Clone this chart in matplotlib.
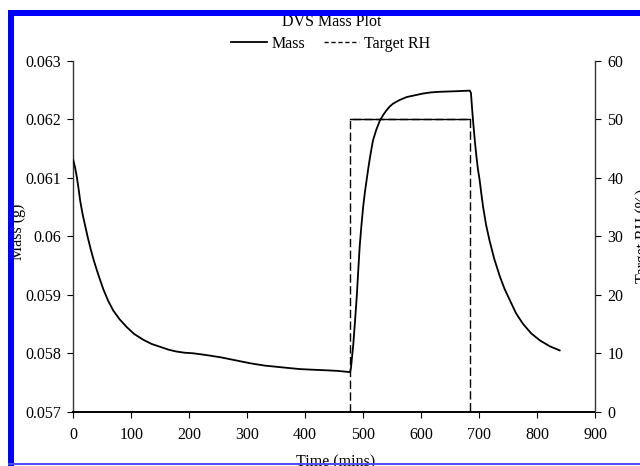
import matplotlib
matplotlib.use("Agg")
import matplotlib.pyplot as plt
from matplotlib.patches import Rectangle
from matplotlib.lines import Line2D

plt.rcParams['font.family'] = ['Liberation Serif', 'DejaVu Serif']

# ---- data ----
t_mass = [0, 3, 6, 9, 12, 16, 20, 25, 30, 35, 40, 46, 52, 60, 69, 80, 92, 105,
          121, 135, 150, 165, 178, 192, 207, 222, 236, 255, 275, 290, 305, 330,
          350, 370, 391, 412, 435, 455, 476,
          477.5, 479, 481, 483, 486, 489, 491.5, 494, 497, 500, 503, 506, 509,
          512, 517, 523, 529, 535, 540, 546, 552, 563, 575, 589, 603, 617, 632,
          660, 684,
          686, 688, 690, 693, 695.5, 698, 701, 704, 707, 712, 718, 726, 736, 744,
          753, 764, 776, 790, 805, 822, 839]
mass = [0.06130, 0.06118, 0.06102, 0.06082, 0.06060, 0.06038, 0.06020, 0.05998,
        0.05978, 0.05960, 0.05944, 0.05926, 0.05909, 0.05890, 0.05873, 0.05858,
        0.05845, 0.05833, 0.05823, 0.05816, 0.05811, 0.05806, 0.05803, 0.05801,
        0.05800, 0.05798, 0.05796, 0.05793, 0.05789, 0.05786, 0.05783, 0.05779,
        0.05777, 0.05775, 0.05773, 0.05772, 0.05771, 0.05770, 0.05768,
        0.05768, 0.05775, 0.05795, 0.05815, 0.05855, 0.05897, 0.05940, 0.05982,
        0.06018, 0.06050, 0.06075, 0.06096, 0.06117, 0.06136, 0.06164, 0.06183,
        0.06198, 0.06208, 0.06215, 0.06222, 0.06227, 0.06233, 0.06238, 0.06241,
        0.06244, 0.06246, 0.06247, 0.06248, 0.06249,
        0.06245, 0.06218, 0.06193, 0.06160, 0.06136, 0.06115, 0.06096, 0.06072,
        0.06050, 0.06020, 0.05993, 0.05962, 0.05931, 0.05910, 0.05891, 0.05868,
        0.05850, 0.05834, 0.05822, 0.05812, 0.05805]
t_rh = [477, 477, 684, 684]
target_rh = [0, 50, 50, 0]

x_ticks = [0, 100, 200, 300, 400, 500, 600, 700, 800, 900]
mass_ticks = [0.057, 0.058, 0.059, 0.060, 0.061, 0.062, 0.063]
mass_tick_labels = ['0.057', '0.058', '0.059', '0.06', '0.061', '0.062', '0.063']
rh_ticks = [0, 10, 20, 30, 40, 50, 60]

FS = 11.5
W, H = 640, 466
fig = plt.figure(figsize=(6.4, 4.66), dpi=100)
ax = fig.add_axes([73.3 / W, 1 - 411.8 / H, (595 - 73.3) / W, (411.8 - 60.8) / H])
ax2 = ax.twinx()

ax.plot(t_mass, mass, color='black', lw=1.3, zorder=3, solid_joinstyle='round')
ax2.plot(t_rh, target_rh, color='black', lw=1.0, linestyle=(0, (6, 2.5)))
ax2.plot(t_rh[1:3], target_rh[1:3], color='black', lw=1.0, linestyle='-')

ax.set_xlim(0, 900)
ax.set_ylim(0.057, 0.063)
ax2.set_ylim(0, 60)
ax.set_xticks(x_ticks)
ax.set_xticklabels([str(v) for v in x_ticks])
ax.set_yticks(mass_ticks)
ax.set_yticklabels(mass_tick_labels)
ax2.set_yticks(rh_ticks)
ax2.set_yticklabels([str(v) for v in rh_ticks])

for a in (ax, ax2):
    a.spines['top'].set_visible(False)
    a.tick_params(labelsize=FS, direction='out', length=4, width=0.8, colors='black')
ax.spines['right'].set_visible(False)
ax2.spines['left'].set_visible(False)
ax2.spines['bottom'].set_visible(False)
for sp in (ax.spines['left'], ax2.spines['right']):
    sp.set_linestyle((0, (1, 1)))
    sp.set_color('0.2')
    sp.set_linewidth(1.0)
ax.spines['bottom'].set_linewidth(1.4)
ax.spines['bottom'].set_color('black')
ax.tick_params(axis='x', pad=7)
ax.tick_params(axis='y', pad=5)
ax2.tick_params(axis='y', pad=5)

# titles / labels (partly hidden by the frame, as in the reference)
fig.text(332 / W, 1 - 22 / H, 'DVS Mass Plot', ha='center', va='center', fontsize=FS)
fig.text(18 / W, 1 - 232 / H, 'Mass (g)', ha='center', va='center', rotation=90, fontsize=FS)
fig.text(643 / W, 1 - 236 / H, 'Target RH (%)', ha='center', va='center', rotation=90, fontsize=FS)
fig.text(336 / W, 1 - 462 / H, 'Time (mins)', ha='center', va='center', fontsize=FS)

handles = [Line2D([], [], color='black', lw=1.3),
           Line2D([], [], color='black', lw=1.0, linestyle=(0, (3, 2)))]
fig.legend(handles, ['Mass', 'Target RH'], loc='center', bbox_to_anchor=(331 / W, 1 - 44 / H),
           ncol=2, frameon=False, fontsize=FS, handlelength=2.2, handletextpad=0.3,
           columnspacing=1.2, borderaxespad=0, borderpad=0)

# blue frame
blue = (0, 0, 1)
fig.add_artist(Rectangle((8 / W, 0), 5.5 / W, (H - 10) / H, transform=fig.transFigure,
                         facecolor=blue, edgecolor='none', zorder=20))
fig.add_artist(Rectangle((8 / W, 1 - 16 / H), (W - 8) / W, 6 / H, transform=fig.transFigure,
                         facecolor=blue, edgecolor='none', zorder=20))
fig.add_artist(Rectangle((8 / W, 1 - 465 / H), (W - 8) / W, 2 / H, transform=fig.transFigure,
                         facecolor=(0.3, 0.3, 1), edgecolor='none', zorder=20))

fig.savefig('out.png', dpi=100)
